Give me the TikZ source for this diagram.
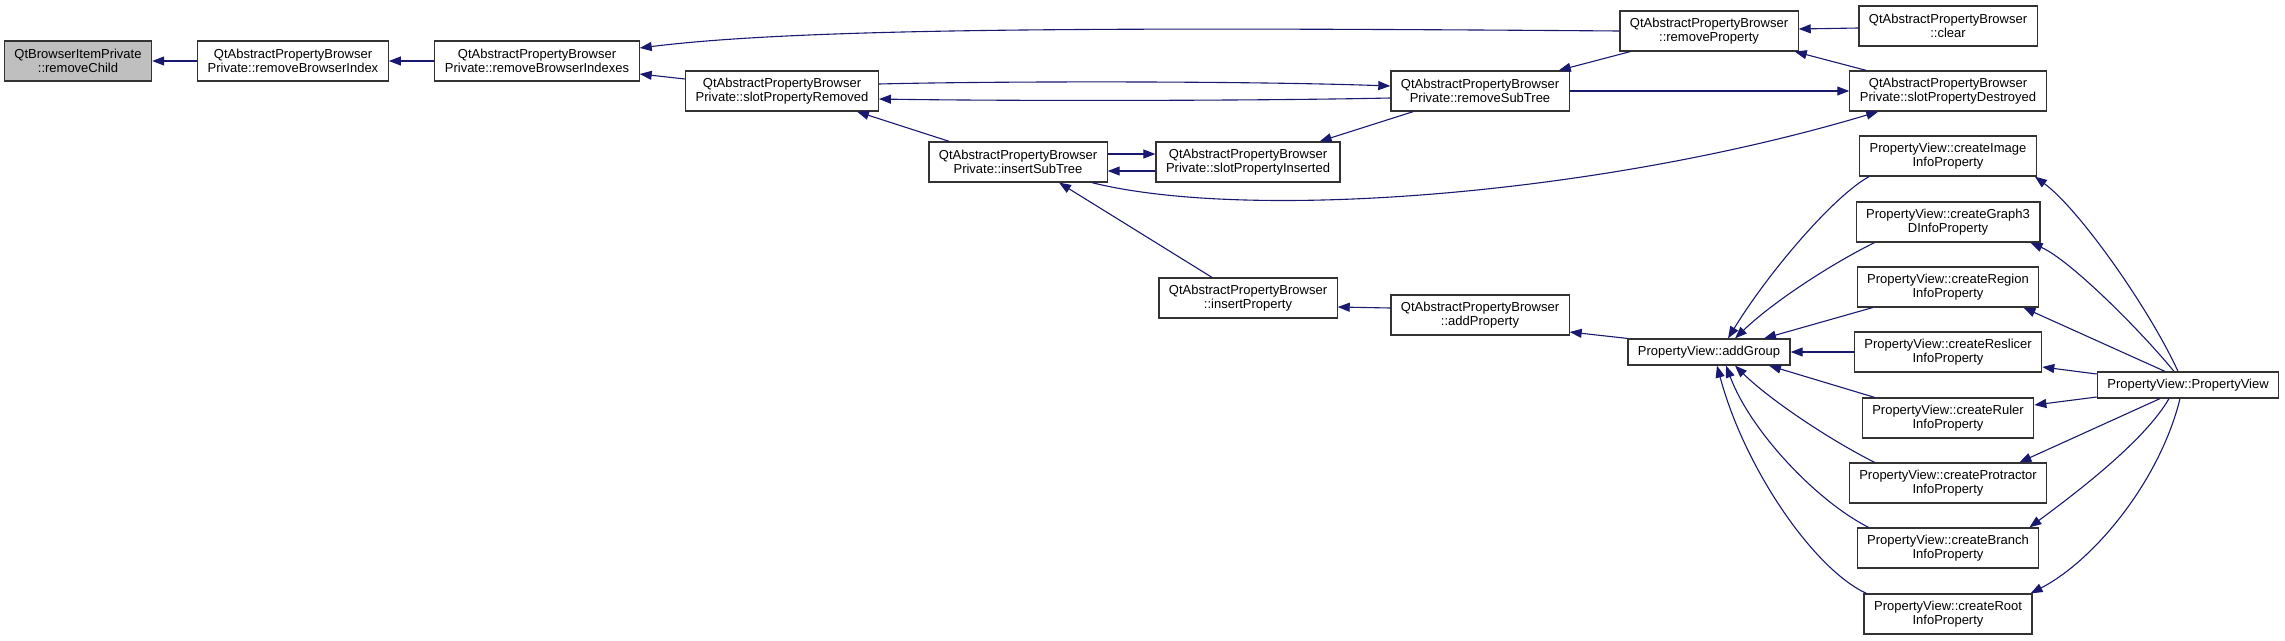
\documentclass[tikz,border=0pt]{standalone}
\usepackage{fontspec}
\setmainfont{Liberation Sans}
\usetikzlibrary{arrows.meta}
\definecolor{edgeblue}{RGB}{25,25,112}
\definecolor{callgrey}{RGB}{191,191,191}

\begin{document}
\begin{tikzpicture}[x=1pt,y=-1pt,>={Triangle[length=12pt,width=9pt]},
 b/.style={draw=black!80,line width=1.2pt,fill=white,font=\fontsize{13}{14}\selectfont,align=center,minimum height=40pt,inner xsep=10pt,inner ysep=0pt},
 a/.style={->,color=edgeblue,line width=1.1pt}]
 \useasboundingbox (0,0) rectangle (2285,640);
 \node[b,fill=callgrey] (rc) at (78,61) {QtBrowserItemPrivate\\::removeChild};
 \node[b] (rbi) at (293,61) {QtAbstractPropertyBrowser\\Private::removeBrowserIndex};
 \node[b] (rbis) at (537,61) {QtAbstractPropertyBrowser\\Private::removeBrowserIndexes};
 \node[b] (spr) at (782,91) {QtAbstractPropertyBrowser\\Private::slotPropertyRemoved};
 \node[b] (ist) at (1018,162) {QtAbstractPropertyBrowser\\Private::insertSubTree};
 \node[b] (spi) at (1248,162) {QtAbstractPropertyBrowser\\Private::slotPropertyInserted};
 \node[b] (ip) at (1248,298) {QtAbstractPropertyBrowser\\::insertProperty};
 \node[b] (rst) at (1480,91) {QtAbstractPropertyBrowser\\Private::removeSubTree};
 \node[b] (ap) at (1480,315) {QtAbstractPropertyBrowser\\::addProperty};
 \node[b] (rp) at (1709,31) {QtAbstractPropertyBrowser\\::removeProperty};
 \node[b,minimum height=26pt] (ag) at (1709,352) {PropertyView::addGroup};
 \node[b] (clr) at (1948,26) {QtAbstractPropertyBrowser\\::clear};
 \node[b] (spd) at (1948,91) {QtAbstractPropertyBrowser\\Private::slotPropertyDestroyed};
 \node[b] (cim) at (1948,156) {PropertyView::createImage\\InfoProperty};
 \node[b] (cg3) at (1948,222) {PropertyView::createGraph3\\DInfoProperty};
 \node[b] (crg) at (1948,287) {PropertyView::createRegion\\InfoProperty};
 \node[b] (crs) at (1948,352) {PropertyView::createReslicer\\InfoProperty};
 \node[b] (cru) at (1948,418) {PropertyView::createRuler\\InfoProperty};
 \node[b] (cpr) at (1948,483) {PropertyView::createProtractor\\InfoProperty};
 \node[b] (cbr) at (1948,548) {PropertyView::createBranch\\InfoProperty};
 \node[b] (crt) at (1948,614) {PropertyView::createRoot\\InfoProperty};
 \node[b,minimum height=26pt] (pv) at (2188,385) {PropertyView::PropertyView};
 \draw[a] (rbi) -- (rc);
 \draw[a] (rbis) -- (rbi);
 \draw[a] (rp.west) .. controls (1100,27) and (800,28) .. ([yshift=13pt]rbis.east);
 \draw[a] ([yshift=12pt]spr.west) -- ([yshift=-13pt]rbis.east);
 \draw[a] ([yshift=7pt]spr.east) .. controls (1000,81) and (1250,81) .. ([yshift=5pt]rst.west);
 \draw[a] ([yshift=-7pt]rst.west) .. controls (1250,101) and (1000,101) .. ([yshift=-8pt]spr.east);
 \draw[a] ([xshift=21pt]ist.north west) -- ([xshift=-22pt]spr.south east);
 \draw[a] ([xshift=23pt]rst.south west) -- ([xshift=-21pt]spi.north east);
 \draw[a] ([yshift=8pt]ist.east) -- ([yshift=8pt]spi.west);
 \draw[a] ([yshift=-9pt]spi.west) -- ([yshift=-9pt]ist.east);
 \draw[a] ([xshift=11pt]rp.south west) -- ([xshift=-11pt]rst.north east);
 \draw[a] ([xshift=17pt]spd.north west) -- ([xshift=-4pt]rp.south east);
 \draw[a] ([yshift=-2pt]clr.west) -- ([yshift=2pt]rp.east);
 \draw[a] (rst) -- (spd);
 \draw[a] ([xshift=-16pt]ist.south east) .. controls (1250,222) and (1600,195) .. ([xshift=29pt]spd.south west);
 \draw[a] ([xshift=-36pt]ip.north) -- ([xshift=41pt]ist.south);
 \draw[a] ([yshift=7pt]ap.west) -- ([yshift=-9pt]ip.east);
 \draw[a] (ag.north west) -- ([yshift=-17pt]ap.east);
 \draw[a] ([xshift=10pt]cim.south west) .. controls (1835,195) and (1770,270) .. ([xshift=19pt]ag.north);
 \draw[a] ([xshift=19pt]cg3.south west) .. controls (1835,262) and (1775,300) .. ([xshift=26pt]ag.north);
 \draw[a] ([xshift=16pt]crg.south west) -- ([xshift=55pt]ag.north);
 \draw[a] (crs) -- (ag);
 \draw[a] ([xshift=13pt]cru.north west) -- ([xshift=60pt]ag.south);
 \draw[a] ([xshift=26pt]cpr.north west) .. controls (1830,440) and (1770,400) .. ([xshift=26pt]ag.south);
 \draw[a] ([xshift=12pt]cbr.north west) .. controls (1815,500) and (1750,430) .. ([xshift=17pt]ag.south);
 \draw[a] ([xshift=3pt]crt.north west) .. controls (1815,570) and (1745,470) .. ([xshift=8pt]ag.south);
 \draw[a] ([xshift=-10pt]pv.north) .. controls (2150,310) and (2080,210) .. ([xshift=-2pt]cim.south east);
 \draw[a] ([xshift=-14pt]pv.north) .. controls (2140,330) and (2070,260) .. ([xshift=-10pt]cg3.south east);
 \draw[a] ([xshift=-23pt]pv.north) -- ([xshift=-16pt]crg.south east);
 \draw[a] ([yshift=11pt]pv.west) -- ([yshift=-15pt]crs.east);
 \draw[a] ([yshift=-12pt]pv.west) -- ([yshift=13pt]cru.east);
 \draw[a] ([xshift=-28pt]pv.south) -- ([xshift=-28pt]cpr.north east);
 \draw[a] ([xshift=-19pt]pv.south) .. controls (2145,440) and (2080,490) .. ([xshift=-10pt]cbr.north east);
 \draw[a] ([xshift=-8pt]pv.south) .. controls (2160,480) and (2095,560) .. ([xshift=-2pt]crt.north east);
\end{tikzpicture}
\end{document}
